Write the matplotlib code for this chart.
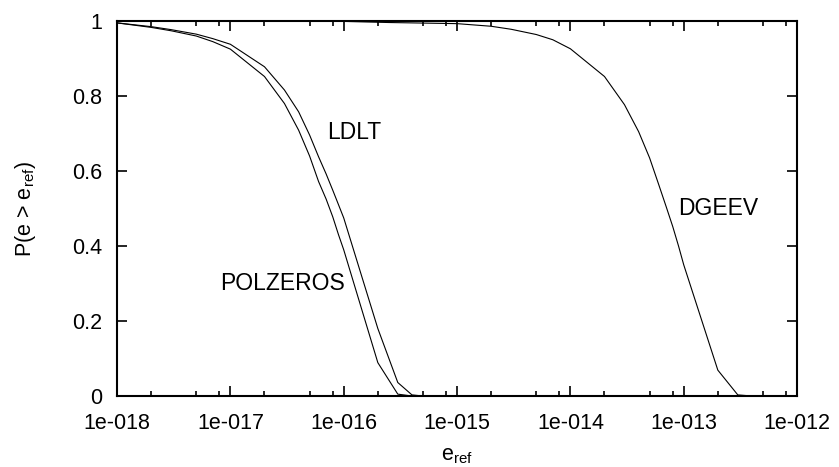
import matplotlib
matplotlib.use("Agg")
import numpy as np
from matplotlib import pyplot as plt
from matplotlib.ticker import LogLocator, FixedFormatter, FixedLocator, NullFormatter

# curves: P(e > e_ref) over e_ref
x_ldlt = [1e-18, 2e-18, 3e-18, 5e-18, 7e-18, 1e-17, 2e-17, 3e-17, 4e-17, 5e-17, 6e-17,
          7e-17, 8e-17, 9e-17, 1e-16, 2e-16, 3e-16, 4e-16, 5e-16, 1e-12]
y_ldlt = [0.995, 0.985, 0.977, 0.965, 0.953, 0.938, 0.878, 0.816, 0.758, 0.696, 0.638,
          0.592, 0.549, 0.51, 0.475, 0.18, 0.036, 0.003, 0.0, 0.0]

x_polzeros = [1e-18, 2e-18, 3e-18, 5e-18, 7e-18, 1e-17, 2e-17, 3e-17, 4e-17, 5e-17,
              6e-17, 7e-17, 8e-17, 9e-17, 1e-16, 2e-16, 3e-16, 4e-16, 1e-12]
y_polzeros = [0.995, 0.983, 0.974, 0.96, 0.945, 0.925, 0.852, 0.78, 0.709, 0.64,
              0.572, 0.525, 0.478, 0.43, 0.39, 0.089, 0.005, 0.0, 0.0]

x_dgeev = [1e-18, 1e-16, 2.5e-16, 1e-15, 2e-15, 3e-15, 5e-15, 7e-15, 1e-14, 2e-14,
           3e-14, 4e-14, 5e-14, 6e-14, 7e-14, 8e-14, 9e-14, 1e-13, 2e-13, 3e-13,
           4e-13, 1e-12]
y_dgeev = [1.0, 0.999, 0.996, 0.993, 0.986, 0.978, 0.964, 0.95, 0.926, 0.852,
           0.777, 0.705, 0.635, 0.565, 0.505, 0.452, 0.40, 0.35, 0.069, 0.003,
           0.0, 0.0]

decades = [1e-18, 1e-17, 1e-16, 1e-15, 1e-14, 1e-13, 1e-12]
decade_labels = ["1e-018", "1e-017", "1e-016", "1e-015", "1e-014", "1e-013", "1e-012"]

plt.rcParams["font.family"] = ["Liberation Sans", "DejaVu Sans"]

fig = plt.figure(figsize=(8.39, 4.67), dpi=100)
ax = fig.add_axes([0.1395, 0.152, 0.8105, 0.803])

ax.plot(x_ldlt, y_ldlt, color="black", lw=0.8)
ax.plot(x_polzeros, y_polzeros, color="black", lw=0.8)
ax.plot(x_dgeev, y_dgeev, color="black", lw=0.8)

ax.text(7.1e-17, 0.704, "LDLT", fontsize=16.5, ha="left", va="center")
ax.text(8.1e-18, 0.301, "POLZEROS", fontsize=16.5, ha="left", va="center")
ax.text(8.9e-14, 0.501, "DGEEV", fontsize=16.5, ha="left", va="center")

ax.set_xscale("log")
ax.set_xlim(1e-18, 1e-12)
ax.set_ylim(0, 1)

ax.xaxis.set_major_locator(FixedLocator(decades))
ax.xaxis.set_major_formatter(FixedFormatter(decade_labels))
ax.xaxis.set_minor_locator(LogLocator(base=10, subs=[2, 5, 8], numticks=20))
ax.xaxis.set_minor_formatter(NullFormatter())
ax.set_yticks([0, 0.2, 0.4, 0.6, 0.8, 1])
ax.set_yticklabels(["0", "0.2", "0.4", "0.6", "0.8", "1"])

ax.tick_params(which="both", direction="in", top=True, right=True, width=1.2,
               labelsize=15.5)
ax.tick_params(which="major", length=7.2)
ax.tick_params(which="minor", length=3.6)
ax.tick_params(axis="x", pad=12)
ax.tick_params(axis="y", pad=11)

for s in ax.spines.values():
    s.set_linewidth(1.5)

ax.set_xlabel("e$_{\\mathregular{ref}}$", fontsize=15.5, labelpad=8)
ax.set_ylabel("P(e > e$_{\\mathregular{ref}}$)", fontsize=15.5, labelpad=24)

fig.savefig("out.png", dpi=100)
